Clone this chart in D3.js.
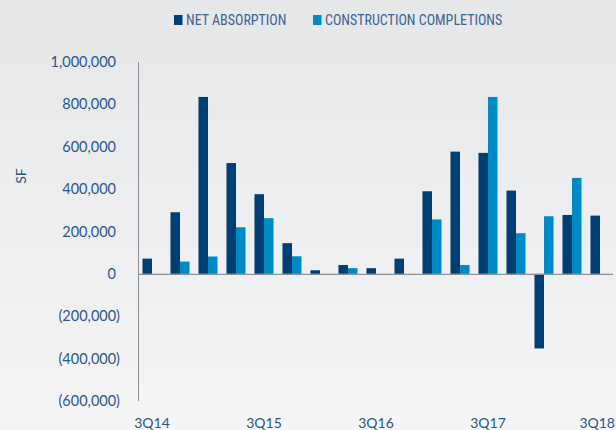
<!DOCTYPE html>
<html>
<head>
<meta charset="utf-8">
<script src="https://d3js.org/d3.v7.min.js"></script>
<style>
  html, body { margin: 0; padding: 0; }
  body { width: 616px; height: 430px; overflow: hidden; }
  svg { display: block; }
</style>
</head>
<body>
<div id="chart"></div>
<script>
// quarters, 3Q14 .. 3Q18
const quarters = ['3Q14', '4Q14', '1Q15', '2Q15', '3Q15', '4Q15', '1Q16', '2Q16', '3Q16',
                  '4Q16', '1Q17', '2Q17', '3Q17', '4Q17', '1Q18', '2Q18', '3Q18'];
const netAbsorption = [72000, 291000, 835000, 523000, 376000, 145000, 17000, 42000, 27000,
                       72000, 390000, 577000, 571000, 393000, -352000, 278000, 275000];
const completions = [0, 58000, 82000, 220000, 263000, 83000, 0, 27000, 0,
                     0, 257000, 42000, 835000, 192000, 272000, 453000, 0];
const xTickLabels = ['3Q14', '3Q15', '3Q16', '3Q17', '3Q18'];
const yTicks = [1000000, 800000, 600000, 400000, 200000, 0, -200000, -400000, -600000];
const seriesNames = ['NET ABSORPTION', 'CONSTRUCTION COMPLETIONS'];

const colors = ['#003f73', '#008ac5'];
const textColor = '#2b5787';
const width = 616, height = 430;

const svg = d3.select('#chart').append('svg')
    .attr('width', width)
    .attr('height', height);

// soft grey background gradient
const grad = svg.append('defs').append('linearGradient')
    .attr('id', 'bg').attr('x1', 0).attr('y1', 0).attr('x2', 0).attr('y2', 1);
grad.append('stop').attr('offset', '0%').attr('stop-color', '#e6e7e9');
grad.append('stop').attr('offset', '100%').attr('stop-color', '#f5f5f6');
svg.append('rect').attr('width', width).attr('height', height).attr('fill', 'url(#bg)');

const x = d3.scaleBand()
    .domain(quarters)
    .range([138, 614])
    .paddingInner(0.32)
    .paddingOuter(0.16);

const xSub = d3.scaleBand()
    .domain([0, 1])
    .range([0, x.bandwidth()]);

const y = d3.scaleLinear()
    .domain([-600000, 1000000])
    .range([401, 62]);

const fmt = d3.format(',');

// y labels
const yLabels = svg.append('g')
    .attr('font-family', 'Lato, "Open Sans", sans-serif')
    .attr('font-size', 14.5)
    .attr('fill', textColor);
yLabels.selectAll('text')
    .data(yTicks)
    .enter().append('text')
    .attr('x', d => d < 0 ? 120 : 116)
    .attr('y', d => y(d))
    .attr('dy', '0.35em')
    .attr('text-anchor', 'end')
    .text(d => d < 0 ? '(' + fmt(-d) + ')' : fmt(d));

svg.append('text')
    .attr('transform', 'translate(26,176) rotate(-90)')
    .attr('text-anchor', 'middle')
    .attr('font-family', 'Lato, "Open Sans", sans-serif')
    .attr('font-size', 14)
    .attr('fill', textColor)
    .text('SF');

// bars
const rows = quarters.map((q, i) => ({ q, vals: [netAbsorption[i], completions[i]] }));
const groups = svg.append('g').selectAll('g')
    .data(rows)
    .enter().append('g')
    .attr('transform', d => `translate(${x(d.q)},0)`);

groups.selectAll('rect')
    .data(d => d.vals.map((v, k) => ({ v, k })).filter(e => e.v !== 0))
    .enter().append('rect')
    .attr('x', d => xSub(d.k))
    .attr('width', xSub.bandwidth())
    .attr('y', d => y(Math.max(0, d.v)))
    .attr('height', d => Math.abs(y(d.v) - y(0)))
    .attr('fill', d => colors[d.k]);

// axes lines
svg.append('line')
    .attr('x1', 138.5).attr('x2', 138.5)
    .attr('y1', y(1000000)).attr('y2', y(-600000))
    .attr('stroke', '#8c8f93').attr('stroke-width', 1);
svg.append('line')
    .attr('x1', 138).attr('x2', 613)
    .attr('y1', y(0) + 0.5).attr('y2', y(0) + 0.5)
    .attr('stroke', '#8c8f93').attr('stroke-width', 1.2);

// x labels (last one kept inside the right edge)
const lastTick = xTickLabels[xTickLabels.length - 1];
svg.append('g')
    .attr('font-family', 'Lato, "Open Sans", sans-serif')
    .attr('font-size', 14)
    .attr('fill', textColor)
    .selectAll('text')
    .data(xTickLabels)
    .enter().append('text')
    .attr('x', d => d === lastTick ? width - 1 : x(d) + x.bandwidth() / 2)
    .attr('y', 428)
    .attr('text-anchor', d => d === lastTick ? 'end' : 'middle')
    .text(d => d);

// legend
const legendX = [174, 313];
const legend = svg.append('g')
    .selectAll('g')
    .data(seriesNames)
    .enter().append('g')
    .attr('transform', (d, i) => `translate(${legendX[i]},15)`);
legend.append('rect')
    .attr('width', 8.5).attr('height', 10)
    .attr('fill', (d, i) => colors[i]);
legend.append('text')
    .attr('x', 12)
    .attr('y', 5)
    .attr('dy', '0.36em')
    .attr('font-family', '"Liberation Sans Narrow", "Roboto Condensed", Roboto, sans-serif')
    .attr('font-size', 14)
    .attr('fill', '#3d6490')
    .text(d => d);
</script>
</body>
</html>
